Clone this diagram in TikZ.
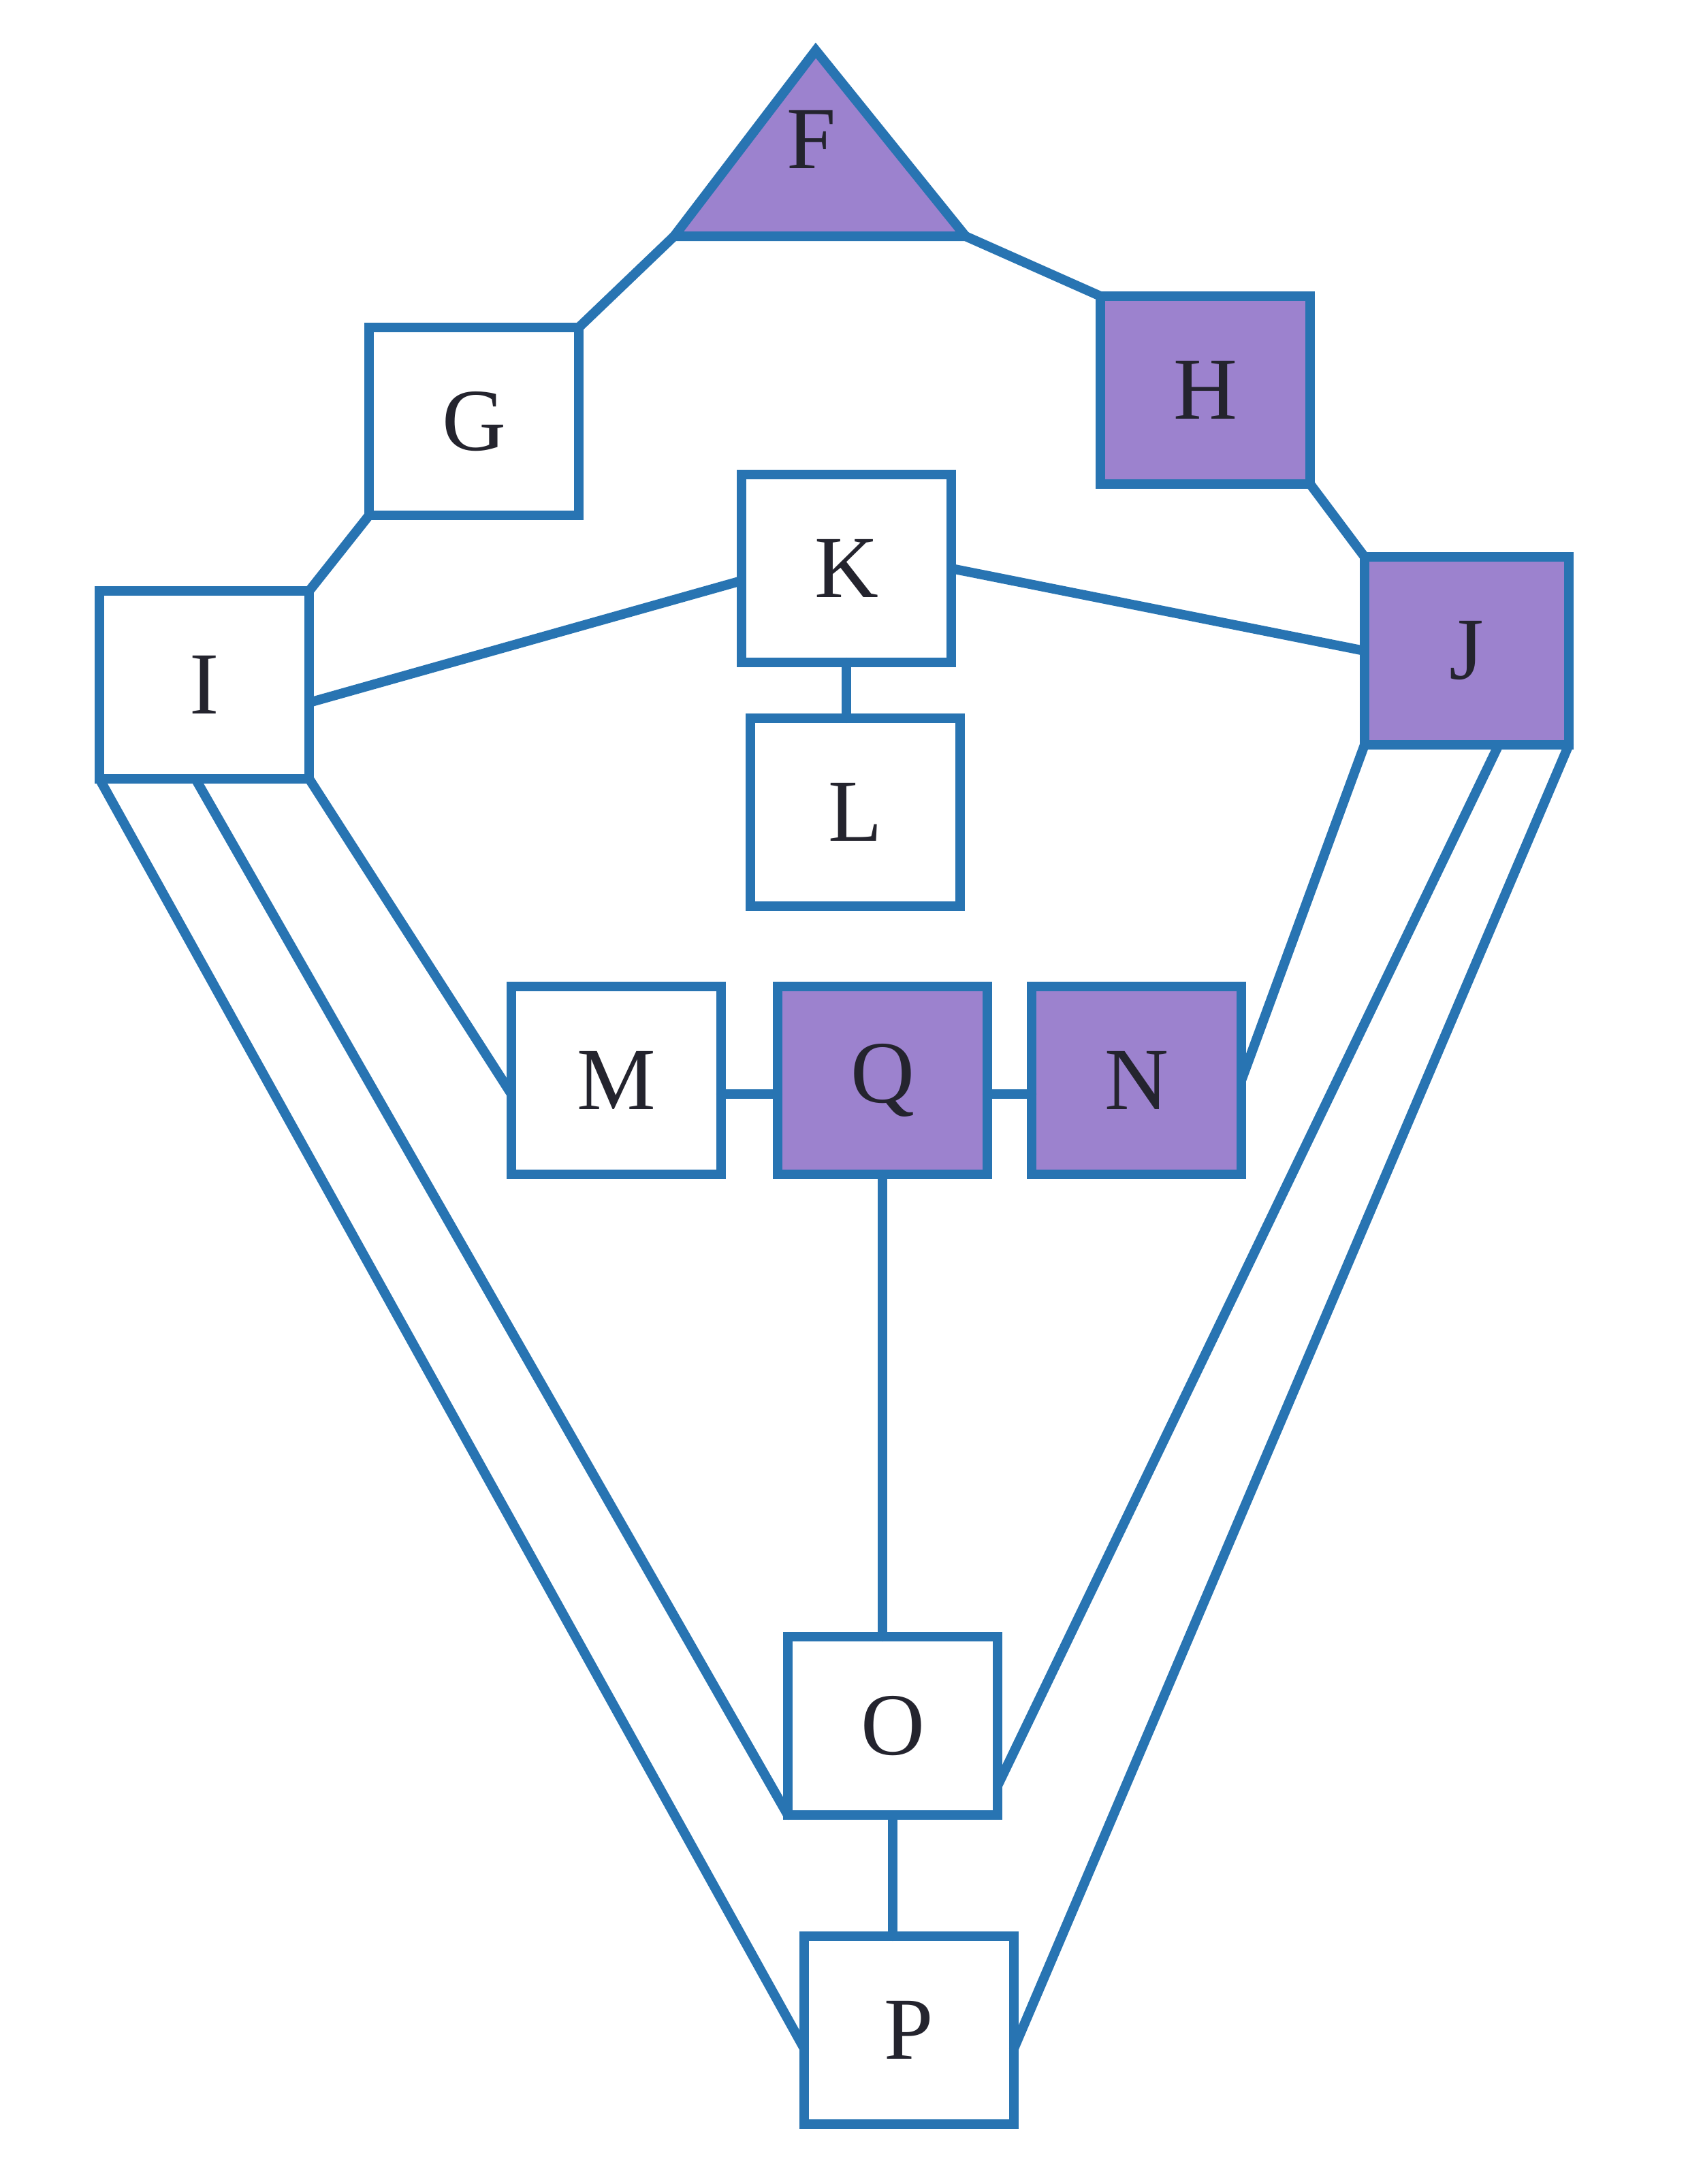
\documentclass[tikz,border=0pt]{standalone}
\usepackage{fontspec}
\setmainfont{Liberation Serif}
\usepackage{xcolor}
\definecolor{penblue}{RGB}{40,116,178}
\definecolor{crayon}{RGB}{156,130,206}
\definecolor{inkgray}{RGB}{36,36,46}

\begin{document}
\begin{tikzpicture}[line join=miter,line cap=round,
  link/.style={draw=penblue,line width=4pt},
  box/.style={link,fill=white,minimum width=3.08cm,minimum height=2.76cm,
    inner sep=0pt,outer sep=0pt,text=inkgray,font=\fontsize{37}{40}\selectfont},
  shaded/.style={box,fill=crayon}]
  \useasboundingbox (0,0) rectangle (25,-32.08);

  % --- top triangle ---
  \coordinate (Ftop) at (11.98,-0.74);
  \coordinate (Fleft) at (9.90,-3.47);
  \coordinate (Fright) at (14.18,-3.47);
  \filldraw[link,fill=crayon] (Ftop) -- (Fleft) -- (Fright) -- cycle;
  \node[text=inkgray,font=\fontsize{37}{40}\selectfont] (F) at (11.92,-2.05) {F};

  % --- upper boxes ---
  \node[box]    (G) at (6.96,-6.19) {G};
  \node[shaded] (H) at (17.70,-5.73) {H};
  \node[box]    (K) at (12.43,-8.35) {K};
  \node[box]    (I) at (3.00,-10.06) {I};
  \node[shaded,minimum width=3.0cm] (J) at (21.54,-9.56) {J};
  \node[box]    (L) at (12.56,-11.93) {L};

  % --- middle row ---
  \node[box]    (M) at (9.05,-15.87) {M};
  \node[shaded] (Q) at (12.96,-15.87) {Q};
  \node[shaded] (N) at (16.69,-15.87) {N};

  % --- bottom ---
  \node[box,minimum height=2.62cm] (O) at (13.11,-25.35) {O};
  \node[box]    (P) at (13.35,-29.82) {P};

  % --- connectors ---
  \draw[link] (Fleft) -- (G.north east);
  \draw[link] (Fright) -- (H.north west);
  \draw[link] (G.south west) -- (I.north east);
  \draw[link] (H.south east) -- (J.north west);
  \draw[link] ([yshift=-0.26cm]I.east) -- ([yshift=-0.18cm]K.west);
  \draw[link] (K.east) -- (J.west);
  \draw[link] (K.south) -- (K.south |- L.north);
  \draw[link] (I.south west) -- ([yshift=-0.27cm]P.west);
  \draw[link] ([xshift=-0.13cm]I.south) -- (O.south west);
  \draw[link] (I.south east) -- ([yshift=-0.2cm]M.west);
  \draw[link] ([yshift=-0.2cm]M.east) -- ([yshift=-0.2cm]Q.west);
  \draw[link] ([yshift=-0.2cm]Q.east) -- ([yshift=-0.2cm]N.west);
  \draw[link] (Q.south) -- (Q.south |- O.north);
  \draw[link] (O.south) -- (O.south |- P.north);
  \draw[link] (J.south west) -- (N.east);
  \draw[link] ([xshift=0.47cm]J.south) -- ([yshift=0.43cm]O.south east);
  \draw[link] (J.south east) -- ([yshift=-0.27cm]P.east);
\end{tikzpicture}
\end{document}
